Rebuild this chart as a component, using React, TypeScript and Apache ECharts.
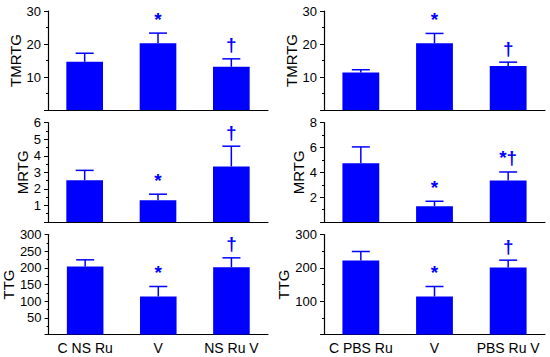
import React, { useEffect, useRef } from "react";
import * as echarts from "echarts";

const categoriesLeft = ["C NS Ru", "V", "NS Ru V"];
const categoriesRight = ["C PBS Ru", "V", "PBS Ru V"];

const tmrtgLeftMean = [14.6, 20.2, 13.1];
const tmrtgLeftErr = [2.6, 3.1, 2.4];
const mrtgLeftMean = [2.52, 1.32, 3.36];
const mrtgLeftErr = [0.6, 0.36, 1.22];
const ttgLeftMean = [204, 114, 202];
const ttgLeftErr = [20, 30, 28];

const tmrtgRightMean = [11.4, 20.2, 13.3];
const tmrtgRightErr = [0.8, 3.0, 1.2];
const mrtgRightMean = [4.73, 1.27, 3.34];
const mrtgRightErr = [1.32, 0.4, 0.69];
const ttgRightMean = [222, 114, 201];
const ttgRightErr = [27, 30, 22];

const sigLeftTMRTG = ["", "*", "†"];
const sigLeftMRTG = ["", "*", "†"];
const sigLeftTTG = ["", "*", "†"];
const sigRightTMRTG = ["", "*", "†"];
const sigRightMRTG = ["", "*", "*†"];
const sigRightTTG = ["", "*", "†"];

const FONT = "'Liberation Sans', Arial, sans-serif";
const BLUE = "#0000ff";

type Panel = {
  name: string;
  cats: string[];
  mean: number[];
  err: number[];
  sig: string[];
  max: number;
  interval: number;
  left: number;
  width: number;
  top: number;
  height: number;
  nameGap: number;
  showLabels: boolean;
};

const panels: Panel[] = [
  { name: "TMRTG", cats: categoriesLeft, mean: tmrtgLeftMean, err: tmrtgLeftErr, sig: sigLeftTMRTG, max: 30, interval: 10, left: 48, width: 220, top: 11, height: 99, nameGap: 23, showLabels: false },
  { name: "MRTG", cats: categoriesLeft, mean: mrtgLeftMean, err: mrtgLeftErr, sig: sigLeftMRTG, max: 6, interval: 1, left: 48, width: 220, top: 122.7, height: 99.3, nameGap: 15, showLabels: false },
  { name: "TTG", cats: categoriesLeft, mean: ttgLeftMean, err: ttgLeftErr, sig: sigLeftTTG, max: 300, interval: 50, left: 48, width: 220, top: 234.5, height: 100, nameGap: 28, showLabels: true },
  { name: "TMRTG", cats: categoriesRight, mean: tmrtgRightMean, err: tmrtgRightErr, sig: sigRightTMRTG, max: 30, interval: 10, left: 324, width: 221, top: 11, height: 99, nameGap: 22, showLabels: false },
  { name: "MRTG", cats: categoriesRight, mean: mrtgRightMean, err: mrtgRightErr, sig: sigRightMRTG, max: 8, interval: 2, left: 324, width: 221, top: 122.7, height: 99.3, nameGap: 14, showLabels: false },
  { name: "TTG", cats: categoriesRight, mean: ttgRightMean, err: ttgRightErr, sig: sigRightTTG, max: 300, interval: 100, left: 324, width: 221, top: 234.5, height: 100, nameGap: 29, showLabels: true },
];

export default function App() {
  const ref = useRef<HTMLDivElement>(null);
  useEffect(() => {
    if (!ref.current) return;
    const chart = echarts.init(ref.current, null, { renderer: "svg" });
    const grid: any[] = [];
    const xAxis: any[] = [];
    const yAxis: any[] = [];
    const series: any[] = [];
    panels.forEach((p, i) => {
      grid.push({ left: p.left, width: p.width, top: p.top, height: p.height });
      xAxis.push({
        type: "category",
        gridIndex: i,
        data: p.cats,
        axisLine: { lineStyle: { color: "#000", width: 1.2 } },
        axisTick: { alignWithLabel: true, length: 4, lineStyle: { color: "#000" } },
        axisLabel: { show: p.showLabels, interval: 0, color: "#000", fontFamily: FONT, fontSize: 14, margin: 6 },
      });
      yAxis.push({
        type: "value",
        gridIndex: i,
        min: 0,
        max: p.max,
        interval: p.interval,
        name: p.name,
        nameLocation: "middle",
        nameGap: p.nameGap,
        nameTextStyle: { color: "#000", fontFamily: FONT, fontSize: 15 },
        axisLine: { show: true, lineStyle: { color: "#000", width: 1.2 } },
        axisTick: { show: true, length: 4, lineStyle: { color: "#000" } },
        minorTick: { show: true, splitNumber: 2, length: 2, lineStyle: { color: "#000" } },
        splitLine: { show: false },
        axisLabel: { color: "#000", fontFamily: FONT, fontSize: 13, margin: 7, showMinLabel: false },
      });
      series.push({
        type: "bar",
        xAxisIndex: i,
        yAxisIndex: i,
        barWidth: "50%",
        itemStyle: { color: BLUE },
        data: p.mean,
      });
      series.push({
        type: "custom",
        xAxisIndex: i,
        yAxisIndex: i,
        data: p.mean.map((m, j) => [j, m, p.err[j], j]),
        renderItem: (params: any, api: any) => {
          const idx = api.value(0);
          const m = api.value(1);
          const e = api.value(2);
          const base = api.coord([idx, m]);
          const top = api.coord([idx, m + e]);
          const label = p.sig[api.value(3)];
          const children: any[] = [
            { type: "line", shape: { x1: base[0], y1: base[1], x2: top[0], y2: top[1] }, style: { stroke: BLUE, lineWidth: 1.5 } },
            { type: "line", shape: { x1: top[0] - 9, y1: top[1], x2: top[0] + 9, y2: top[1] }, style: { stroke: BLUE, lineWidth: 1.5 } },
          ];
          if (label) {
            children.push({
              type: "text",
              x: top[0],
              y: top[1] - 14,
              style: {
                text: label,
                fill: BLUE,
                font: `bold 19px ${FONT}`,
                align: "center",
                verticalAlign: "middle",
              },
            });
          }
          return { type: "group", children };
        },
      });
    });
    chart.setOption({
      animation: false,
      backgroundColor: "#fff",
      grid,
      xAxis,
      yAxis,
      series,
    });
    return () => chart.dispose();
  }, []);
  return (
    <div
      ref={ref}
      style={{ position: "fixed", left: 0, top: 0, width: 550, height: 357 }}
    />
  );
}
